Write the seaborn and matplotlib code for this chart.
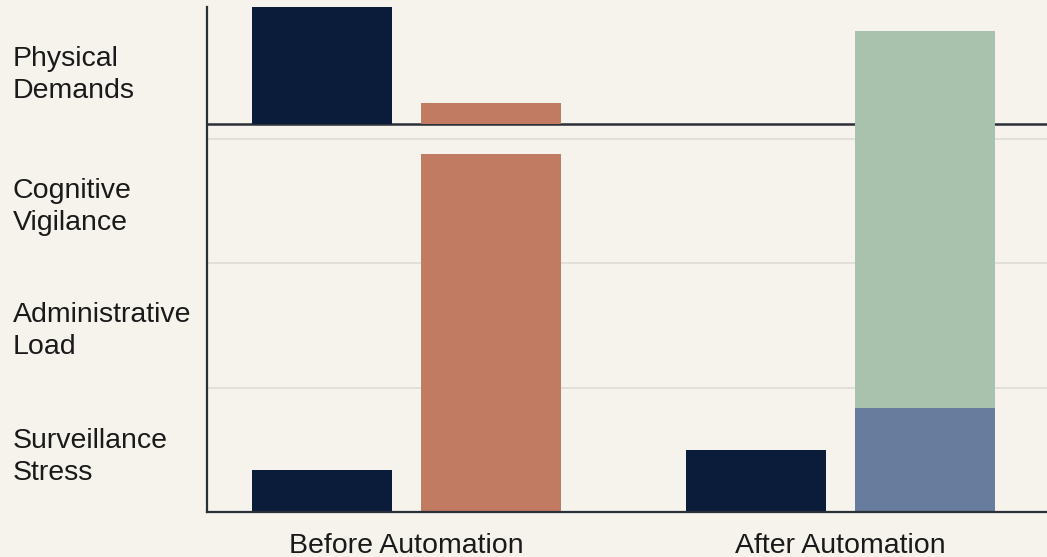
import pandas as pd
import seaborn as sns
import matplotlib.pyplot as plt

# Chart values (units = category bands on the y axis)
groups = ['Before Automation', 'After Automation']
slots = ['left', 'right']
categories = ['Surveillance\nStress', 'Administrative\nLoad',
              'Cognitive\nVigilance', 'Physical\nDemands']
category_pos = [0.49, 1.5, 2.5, 3.56]

# bars standing on the floor
base_left = [0.34, 0.50]
base_right = [2.88, 0.84]
# bars resting on the divider line
divider = 3.12
upper_left = [0.94, 0.0]
upper_right = [0.17, 0.0]
# segment stacked on top of the right floor bar
stack_left = [0.0, 0.0]
stack_right = [0.0, 3.03]

bg = '#f5f3ec'
navy = '#0b1b3a'
salmon = '#c27b63'
sage = '#a9c2ad'
slate = '#687c9d'
ink = '#2b2f38'

sns.set_theme(style='white', rc={'figure.facecolor': bg, 'axes.facecolor': bg})
plt.rcParams['font.family'] = ['Liberation Sans', 'DejaVu Sans']

fig = plt.figure(figsize=(10.47, 5.57), dpi=100)
ax = fig.add_axes([207 / 1047, 45 / 557, 840 / 1047, 505 / 557])


def layer(left, right, bottom, colors):
    '''Draw one layer of dodged bars and colour them bar by bar.'''
    df = pd.DataFrame({
        'group': groups * 2,
        'slot': ['left'] * 2 + ['right'] * 2,
        'value': list(left) + list(right),
    })
    n = len(ax.patches)
    sns.barplot(data=df, x='group', y='value', hue='slot', hue_order=slots,
                order=groups, dodge=True, width=0.779, gap=0.171,
                errorbar=None, legend=False, bottom=bottom, ax=ax,
                linewidth=0)
    for p, c in zip(ax.patches[n:], colors):
        p.set_facecolor(c)
        p.set_edgecolor('none')
        p.set_zorder(2)


layer(base_left, base_right, 0, [navy, navy, salmon, slate])
layer(upper_left, upper_right, divider, [navy, navy, salmon, salmon])
layer(stack_left, stack_right, base_right, [sage, sage, sage, sage])

ax.axhline(divider, color=ink, lw=1.8, zorder=1)

ax.set_yticks([1, 2, 3], minor=True)
ax.yaxis.grid(True, which='minor', color='#deddd6', lw=1.3)
ax.set_axisbelow(True)

ax.set_xlim(-0.4597, 1.4758)
ax.set_ylim(0, 4.06)

ax.set_yticks(category_pos)
ax.set_yticklabels(categories, fontsize=20.5, color='#1a1a1a',
                   ha='left', linespacing=1.3)
ax.set_xticks([0, 1])
ax.set_xticklabels(groups, fontsize=20.5, color='#1a1a1a')
ax.tick_params(axis='y', which='both', length=0, pad=139.7)
ax.tick_params(axis='x', length=0, pad=15)
ax.set(xlabel='', ylabel='')

for side in ['top', 'right']:
    ax.spines[side].set_visible(False)
for side in ['left', 'bottom']:
    ax.spines[side].set_color(ink)
    ax.spines[side].set_linewidth(1.6)

fig.savefig('out.png', dpi=100, facecolor=bg)
